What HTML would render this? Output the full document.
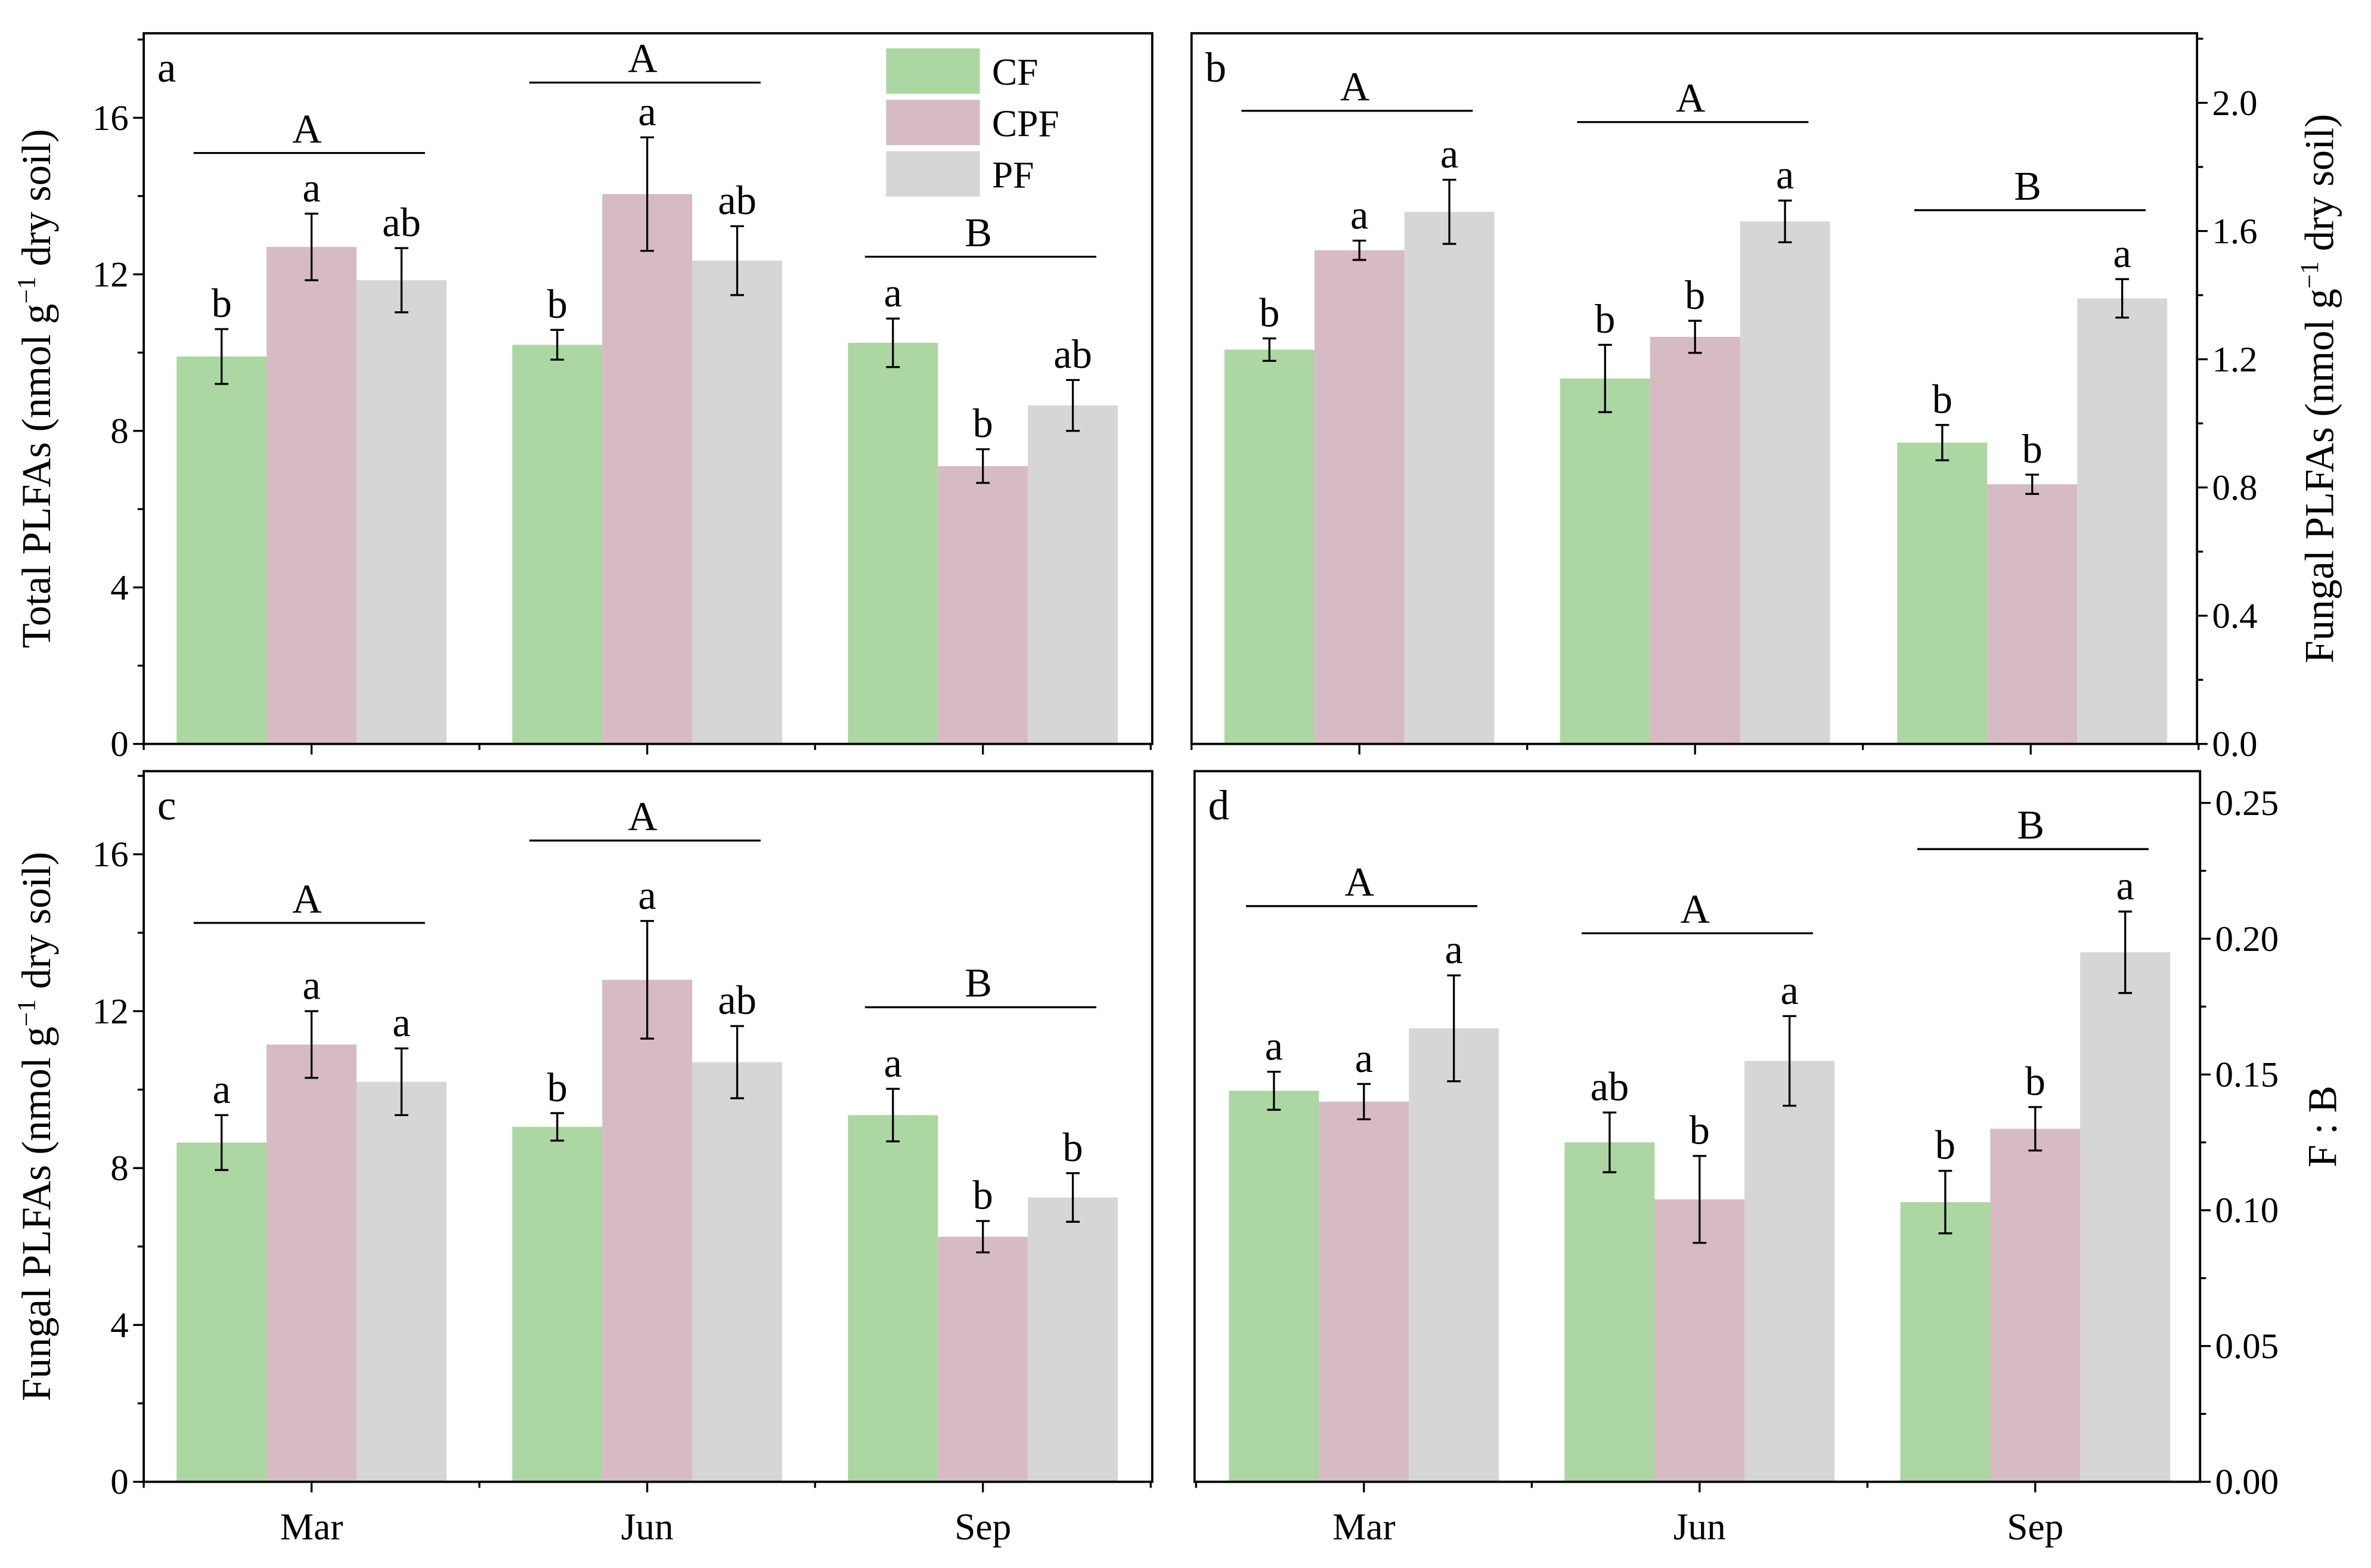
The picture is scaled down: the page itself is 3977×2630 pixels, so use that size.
<!DOCTYPE html>
<html><head><meta charset="utf-8"><style>
html,body{margin:0;padding:0;background:#fff}
svg{display:block}
svg text{font-family:"Liberation Serif","Times New Roman",serif;fill:#000}
</style></head><body>
<svg id="fig" width="3977" height="2630" viewBox="0 0 1568 1037" font-family="Liberation Serif, serif" xmlns="http://www.w3.org/2000/svg"></svg>
<script>
const months = ["Mar","Jun","Sep"];
const series = ["CF","CPF","PF"];
const colors = ["#acd6a2","#d7bbc4","#d6d6d6"];
// panel a
const aVals = [[9.9,12.7,11.85],[10.2,14.05,12.35],[10.25,7.1,8.65]];
const aErr  = [[0.7,0.85,0.82],[0.38,1.45,0.88],[0.62,0.43,0.65]];
const aLet  = [["b","a","ab"],["b","a","ab"],["a","b","ab"]];
const aGrp  = ["A","A","B"];
const aGrpY = [15.1,16.9,12.45];
// panel b
const bVals = [[1.23,1.54,1.66],[1.14,1.27,1.63],[0.94,0.81,1.39]];
const bErr  = [[0.035,0.03,0.1],[0.105,0.05,0.065],[0.055,0.03,0.06]];
const bLet  = [["b","a","a"],["b","b","a"],["b","b","a"]];
const bGrp  = ["A","A","B"];
const bGrpY = [1.975,1.94,1.665];
// panel c
const cVals = [[8.65,11.15,10.2],[9.05,12.8,10.7],[9.35,6.25,7.25]];
const cErr  = [[0.7,0.85,0.85],[0.35,1.5,0.92],[0.67,0.4,0.62]];
const cLet  = [["a","a","a"],["b","a","ab"],["a","b","b"]];
const cGrp  = ["A","A","B"];
const cGrpY = [14.25,16.35,12.1];
// panel d
const dVals = [[0.144,0.140,0.167],[0.125,0.104,0.155],[0.103,0.130,0.195]];
const dErr  = [[0.007,0.0065,0.0195],[0.011,0.016,0.0165],[0.0115,0.008,0.015]];
const dLet  = [["a","a","a"],["ab","b","a"],["b","b","a"]];
const dGrp  = ["A","A","B"];
const dGrpY = [0.212,0.202,0.233];

const NS="http://www.w3.org/2000/svg";
const svg=document.getElementById('fig');
function el(tag,attrs,parent,txt){const e=document.createElementNS(NS,tag);for(const k in attrs)e.setAttribute(k,attrs[k]);if(txt!==undefined)e.textContent=txt;(parent||svg).appendChild(e);return e;}

function panel(cfg){
  const g=el('g',{});
  
  
  const {x0,x1,y0,y1,max,vals,err,lets,grp,grpY,tickStep,minor,fmt,right,gx}=cfg;
  const Y=v=>y1-(v/max)*(y1-y0);
  const bw=59.5;
  for(let m=0;m<3;m++){
    for(let s=0;s<3;s++){
      const cx=gx[m]+(s-1)*bw;
      const v=vals[m][s];
      const r=el('rect',{x:cx-bw/2,y:Y(v),width:bw,height:y1-Y(v),fill:colors[s]},g);
      
      
      const top=Y(v+err[m][s]),bot=Y(v-err[m][s]);
      const eb=el('path',{d:`M${cx},${top}V${bot}M${cx-4.5},${top}H${cx+4.5}M${cx-4.5},${bot}H${cx+4.5}`,stroke:'#000','stroke-width':1.3,fill:'none'},g);
      
      
      const t=el('text',{x:cx,y:top-8,'font-size':27,'text-anchor':'middle'},g,lets[m][s]);
      
      
    }
    const ly=Y(grpY[m]);
    const gl=el('line',{x1:gx[m]-78,x2:gx[m]+75,y1:ly,y2:ly,stroke:'#000','stroke-width':1.3},g);
    
    
    const gt=el('text',{x:gx[m]-3,y:ly-7,'font-size':27,'text-anchor':'middle'},g,grp[m]);
    
    
  }
  el('rect',{x:x0,y:y0,width:x1-x0,height:y1-y0,fill:'none',stroke:'#000','stroke-width':1.5},g);
  const ax=right?x1:x0, dir=right?1:-1;
  for(let v=0;v<=max+1e-9;v+=minor){
    const major=Math.abs(v/tickStep-Math.round(v/tickStep))<1e-6;
    const y=Y(v);
    el('line',{x1:ax,x2:ax+dir*(major?7:4),y1:y,y2:y,stroke:'#000','stroke-width':1.3},g);
    if(major){
      const t=el('text',{x:ax+dir*10,y:y+8,'font-size':24,'text-anchor':right?'start':'end'},g,fmt(v));
      
      
    }
  }
  const step=(gx[1]-gx[0])/2;
  for(let i=-1;i<=5;i++){
    const x=gx[0]+i*step;
    if(x<x0-1||x>x1+1)continue;
    el('line',{x1:x,x2:x,y1:y1,y2:y1+(i%2===0?7:4),stroke:'#000','stroke-width':1.3},g);
  }
  if(cfg.xlabels){
    for(let m=0;m<3;m++){
      const t=el('text',{x:gx[m],y:1018,'font-size':25,'text-anchor':'middle'},g,months[m]);
      
      
    }
  }
  const pl=el('text',{x:x0+9,y:y0+32,'font-size':28},g,cfg.id);
  
  
  const tx=right?x1+90:x0-62, ty=(y0+y1)/2;
  const at=el('text',{transform:`translate(${tx},${ty}) rotate(-90)`,'font-size':27,'text-anchor':'middle'},g);
  
  
  if(cfg.title==='FB'){at.textContent='F : B';}
  else{
    el('tspan',{},at,cfg.title+' PLFAs (nmol g');
    el('tspan',{dy:-10,'font-size':17},at,'−1');
    el('tspan',{dy:10},at,' dry soil)');
  }
}
const gL=[206,428,650], gR=[899,1121,1344];
panel({id:'a',x0:95,x1:762,y0:22,y1:492,max:18.16,vals:aVals,err:aErr,lets:aLet,grp:aGrp,grpY:aGrpY,tickStep:4,minor:2,fmt:v=>String(v),gx:gL,title:'Total'});
panel({id:'b',x0:788,x1:1453,y0:22,y1:492,max:2.217,vals:bVals,err:bErr,lets:bLet,grp:bGrp,grpY:bGrpY,tickStep:0.4,minor:0.2,fmt:v=>v.toFixed(1),gx:gR,right:true,title:'Fungal'});
panel({id:'c',x0:95,x1:762,y0:510,y1:980,max:18.12,vals:cVals,err:cErr,lets:cLet,grp:cGrp,grpY:cGrpY,tickStep:4,minor:2,fmt:v=>String(v),gx:gL,title:'Fungal',xlabels:true});
panel({id:'d',x0:790,x1:1455,y0:510,y1:980,max:0.2617,vals:dVals,err:dErr,lets:dLet,grp:dGrp,grpY:dGrpY,tickStep:0.05,minor:0.025,fmt:v=>v.toFixed(2),gx:[902,1124,1346],right:true,title:'FB',xlabels:true});
const lg=el('g',{});


for(let s=0;s<3;s++){
  const r=el('rect',{x:586,y:32+s*34,width:62,height:30,fill:colors[s]},lg);
  
  
  const t=el('text',{x:656,y:56+s*34,'font-size':25},lg,series[s]);
  
  
}
</script>
</body></html>
